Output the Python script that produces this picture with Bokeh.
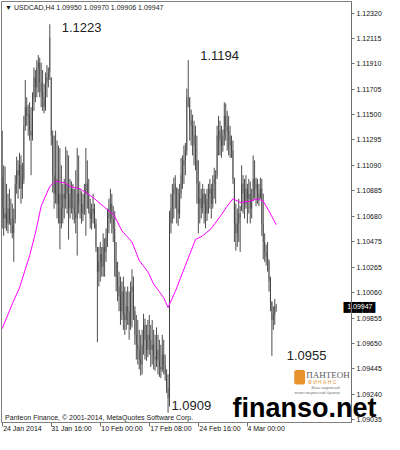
from bokeh.plotting import figure
from bokeh.models import (Range1d, FixedTicker, PrintfTickFormatter, Label, BoxAnnotation,
                          LinearAxis)
from bokeh.embed import file_html
from bokeh.resources import INLINE

symbol = "USDCAD,H4"
watermark = "finanso.net"

highs = [1.1137, 1.1109, 1.1108, 1.1094, 1.1086, 1.1090, 1.1082, 1.1078, 1.1074, 1.1101,
         1.1116, 1.1113, 1.1119, 1.1117, 1.1111, 1.1149, 1.1178, 1.1164, 1.1158, 1.1160,
         1.1156, 1.1168, 1.1188, 1.1186, 1.1194, 1.1198, 1.1196, 1.1192, 1.1186, 1.1175,
         1.1184, 1.1190, 1.1188, 1.1223, 1.1180, 1.1137, 1.1133, 1.1137, 1.1129, 1.1125,
         1.1123, 1.1109, 1.1094, 1.1098, 1.1124, 1.1121, 1.1117, 1.1098, 1.1096, 1.1094,
         1.1090, 1.1105, 1.1123, 1.1117, 1.1090, 1.1088, 1.1086, 1.1094, 1.1123, 1.1113,
         1.1098, 1.1082, 1.1078, 1.1086, 1.1078, 1.1066, 1.1043, 1.1043, 1.1047, 1.1043,
         1.1054, 1.1050, 1.1058, 1.1074, 1.1082, 1.1090, 1.1086, 1.1076, 1.1072, 1.1047,
         1.1031, 1.1023, 1.1019, 1.1015, 1.1019, 1.1011, 1.1007, 1.1011, 1.1007, 1.1015,
         1.1025, 1.1019, 1.0995, 1.0988, 1.0984, 1.0976, 1.0972, 1.0976, 1.0989, 1.0985,
         1.0980, 1.0984, 1.0988, 1.0980, 1.0984, 1.0976, 1.0972, 1.0978, 1.0972, 1.0968,
         1.0964, 1.0972, 1.0968, 1.0956, 1.0944, 1.0940, 1.1072, 1.1086, 1.1094, 1.1099,
         1.1101, 1.1091, 1.1090, 1.1094, 1.1115, 1.1117, 1.1125, 1.1127, 1.1171, 1.1194,
         1.1164, 1.1154, 1.1150, 1.1145, 1.1141, 1.1133, 1.1113, 1.1096, 1.1090, 1.1094,
         1.1090, 1.1086, 1.1090, 1.1094, 1.1098, 1.1094, 1.1101, 1.1107, 1.1105, 1.1141,
         1.1149, 1.1145, 1.1141, 1.1138, 1.1160, 1.1159, 1.1153, 1.1149, 1.1141, 1.1133,
         1.1129, 1.1099, 1.1078, 1.1074, 1.1082, 1.1076, 1.1109, 1.1101, 1.1098, 1.1101,
         1.1094, 1.1098, 1.1096, 1.1090, 1.1117, 1.1113, 1.1099, 1.1098, 1.1094, 1.1099,
         1.1098, 1.1086, 1.1054, 1.1045, 1.1047, 1.1033, 1.1019, 1.0999, 1.0995, 1.1001,
         1.09970]

lows = [1.1058, 1.1052, 1.1058, 1.1056, 1.1054, 1.1061, 1.1054, 1.1050, 1.1031, 1.1062,
        1.1086, 1.1082, 1.1090, 1.1078, 1.1082, 1.1094, 1.1137, 1.1141, 1.1133, 1.1129,
        1.1101, 1.1129, 1.1153, 1.1160, 1.1164, 1.1168, 1.1164, 1.1156, 1.1153, 1.1151,
        1.1153, 1.1164, 1.1172, 1.1178, 1.1125, 1.1087, 1.1074, 1.1078, 1.1066, 1.1062,
        1.1041, 1.1058, 1.1062, 1.1066, 1.1074, 1.1070, 1.1049, 1.1066, 1.1070, 1.1065,
        1.1062, 1.1054, 1.1036, 1.1070, 1.1066, 1.1062, 1.1064, 1.1069, 1.1052, 1.1074,
        1.1070, 1.1058, 1.1057, 1.1062, 1.1058, 1.1039, 1.0966, 1.1011, 1.1015, 1.1019,
        1.1019, 1.1019, 1.1031, 1.1043, 1.1054, 1.1062, 1.1054, 1.1047, 1.1019, 1.1007,
        1.0999, 1.0991, 1.0980, 1.0984, 1.0976, 1.0972, 1.0976, 1.0980, 1.0968, 1.0976,
        1.0978, 1.0984, 1.0964, 1.0952, 1.0948, 1.0944, 1.0939, 1.0940, 1.0956, 1.0952,
        1.0951, 1.0954, 1.0956, 1.0946, 1.0948, 1.0944, 1.0943, 1.0946, 1.0940, 1.0938,
        1.0937, 1.0942, 1.0940, 1.0935, 1.0925, 1.0909, 1.0914, 1.1054, 1.1062, 1.1066,
        1.1074, 1.1062, 1.1060, 1.1066, 1.1082, 1.1090, 1.1094, 1.1101, 1.1117, 1.1156,
        1.1129, 1.1125, 1.1117, 1.1109, 1.1105, 1.1078, 1.1054, 1.1062, 1.1066, 1.1070,
        1.1062, 1.1058, 1.1064, 1.1070, 1.1074, 1.1066, 1.1074, 1.1082, 1.1078, 1.1098,
        1.1117, 1.1117, 1.1115, 1.1120, 1.1125, 1.1129, 1.1121, 1.1117, 1.1115, 1.1115,
        1.1094, 1.1047, 1.1040, 1.1043, 1.1047, 1.1039, 1.1072, 1.1070, 1.1066, 1.1074,
        1.1062, 1.1070, 1.1062, 1.1066, 1.1080, 1.1082, 1.1076, 1.1078, 1.1076, 1.1082,
        1.1052, 1.1033, 1.1031, 1.1028, 1.1023, 1.1007, 1.0991, 1.0955, 1.0976, 1.0980,
        1.09906]

closes = [1.1074, 1.1066, 1.1070, 1.1062, 1.1074, 1.1066, 1.1061, 1.1054, 1.1066, 1.1094,
          1.1105, 1.1101, 1.1109, 1.1090, 1.1098, 1.1141, 1.1156, 1.1149, 1.1150, 1.1137,
          1.1133, 1.1164, 1.1180, 1.1172, 1.1188, 1.1192, 1.1176, 1.1168, 1.1164, 1.1156,
          1.1176, 1.1180, 1.1184, 1.1212, 1.1133, 1.1101, 1.1086, 1.1098, 1.1078, 1.1086,
          1.1062, 1.1074, 1.1086, 1.1082, 1.1094, 1.1086, 1.1074, 1.1086, 1.1090, 1.1074,
          1.1070, 1.1066, 1.1086, 1.1078, 1.1078, 1.1070, 1.1078, 1.1086, 1.1094, 1.1086,
          1.1074, 1.1066, 1.1070, 1.1074, 1.1062, 1.1043, 1.1023, 1.1031, 1.1037, 1.1027,
          1.1043, 1.1039, 1.1050, 1.1066, 1.1074, 1.1078, 1.1066, 1.1058, 1.1031, 1.1019,
          1.1011, 1.1003, 1.0991, 1.1007, 1.0988, 1.0984, 1.0995, 1.0991, 1.0980, 1.1007,
          1.1011, 1.0991, 1.0972, 1.0964, 1.0960, 1.0952, 1.0948, 1.0964, 1.0980, 1.0968,
          1.0960, 1.0972, 1.0968, 1.0960, 1.0964, 1.0954, 1.0952, 1.0960, 1.0951, 1.0946,
          1.0944, 1.0956, 1.0948, 1.0940, 1.0929, 1.0921, 1.1062, 1.1074, 1.1086, 1.1090,
          1.1094, 1.1074, 1.1070, 1.1086, 1.1101, 1.1109, 1.1113, 1.1121, 1.1164, 1.1164,
          1.1145, 1.1141, 1.1133, 1.1125, 1.1113, 1.1094, 1.1078, 1.1082, 1.1074, 1.1086,
          1.1078, 1.1070, 1.1082, 1.1086, 1.1090, 1.1078, 1.1094, 1.1098, 1.1101, 1.1133,
          1.1137, 1.1129, 1.1125, 1.1133, 1.1149, 1.1141, 1.1137, 1.1133, 1.1125, 1.1121,
          1.1098, 1.1062, 1.1054, 1.1062, 1.1070, 1.1066, 1.1094, 1.1086, 1.1078, 1.1090,
          1.1082, 1.1086, 1.1074, 1.1082, 1.1098, 1.1094, 1.1090, 1.1086, 1.1082, 1.1090,
          1.1062, 1.1047, 1.1039, 1.1035, 1.1031, 1.1015, 1.0999, 1.0984, 1.0988, 1.0995,
          1.09947]

first_open = 1.1100

ma_idx = [0, 7, 12, 19, 23, 27, 33, 37, 43, 47, 54, 63, 70, 75, 77, 83, 90, 95, 101, 105,
          112, 115, 120, 127, 134, 139, 145, 152, 156, 160, 165, 172, 177, 181, 185, 190]
ma_vals = [1.0977, 1.0997, 1.1010, 1.1036, 1.1054, 1.1076, 1.1092, 1.1096, 1.1095, 1.1092,
           1.1090, 1.1083, 1.1076, 1.1071, 1.1070, 1.1056, 1.1047, 1.1032, 1.1023, 1.1013,
           1.1002, 1.0994, 1.1007, 1.1028, 1.1049, 1.1052, 1.1058, 1.1069, 1.1076, 1.1082,
           1.1079, 1.1080, 1.1082, 1.1080, 1.1072, 1.1061]

y_ticks = [1.12320, 1.12115, 1.11910, 1.11705, 1.11500, 1.11295, 1.11090, 1.10885, 1.10680,
           1.10475, 1.10265, 1.10060, 1.09855, 1.09650, 1.09445, 1.09240, 1.09035]
x_tick_idx = [0, 34, 68, 102, 136, 170]
x_tick_labels = ["24 Jan 2014", "31 Jan 16:00", "10 Feb 00:00", "17 Feb 08:00",
                 "24 Feb 16:00", "4 Mar 00:00"]

# ---- derived ----
n = len(closes)
idx = list(range(n))
opens = [first_open] + closes[:-1]
body_top = [min(max(o, c), h) for o, c, h in zip(opens, closes, highs)]
body_bot = [max(min(o, c), l) for o, c, l in zip(opens, closes, lows)]
last = closes[-1]

FONT = "Liberation Sans"
SMALL = "7px"
X0, X1 = -0.5, 242.2
Y0, Y1 = 1.09011, 1.12414
FRAME_RIGHT = 343          # canvas x of the chart's right edge (price axis beyond it)

p = figure(width=384, height=434, output_backend="svg", toolbar_location=None,
           x_range=Range1d(X0, X1), y_range=Range1d(Y0, Y1),
           y_axis_location=None, x_axis_location=None,
           min_border_left=1, min_border_top=1,
           min_border_right=33, min_border_bottom=12)
p.background_fill_color = "white"
p.border_fill_color = "white"
p.grid.visible = False
p.outline_line_color = "#808080"

px_per_idx = (FRAME_RIGHT - 1) / (X1 - X0)

def quiet(ax):
    ax.axis_line_color = None
    ax.major_tick_line_color = None
    ax.minor_tick_line_color = None
    ax.major_tick_out = 0
    ax.major_tick_in = 0
    ax.minor_tick_out = 0
    ax.minor_tick_in = 0

# time axis: tick marks at the bar times (minor ticks);
# left-aligned text emulated by centring each label half its width to the right
label_em = [5.50, 5.78, 5.89, 5.89, 5.89, 5.34]
label_centres = [round(t + w * 7.0 / 2.0 / px_per_idx) for t, w in zip(x_tick_idx, label_em)]
xa = LinearAxis(ticker=FixedTicker(ticks=label_centres, minor_ticks=x_tick_idx),
                major_label_overrides={c: s for c, s in zip(label_centres, x_tick_labels)})
quiet(xa)
xa.major_label_text_font = FONT
xa.major_label_text_font_size = SMALL
xa.major_label_text_color = "#111111"
xa.minor_tick_line_color = "#707070"
xa.minor_tick_out = 4
xa.major_label_standoff = -2
p.add_layout(xa, "below")

# price axis on the right
ya = LinearAxis(ticker=FixedTicker(ticks=y_ticks), formatter=PrintfTickFormatter(format="%.5f"))
ya.major_label_text_font = FONT
ya.major_label_text_font_size = SMALL
ya.major_label_text_color = "#111111"
ya.axis_line_color = "#707070"
ya.major_tick_line_color = "#707070"
ya.major_tick_out = 3
ya.major_tick_in = 0
ya.minor_tick_line_color = None
ya.major_label_standoff = 2
p.add_layout(ya, "right")

def pulled_label(y, text, right_end, size, color, style="normal"):
    """single right-aligned text, drawn from the left panel across the chart"""
    ax = LinearAxis(ticker=FixedTicker(ticks=[y]), major_label_overrides={y: text})
    quiet(ax)
    ax.major_label_text_font = FONT
    ax.major_label_text_font_size = size
    ax.major_label_text_font_style = style
    ax.major_label_text_color = color
    ax.major_label_standoff = -(right_end - 1)
    p.add_layout(ax, "left")

# current-price marker on the price scale: black block with white price
pulled_label(last, "\u2588\u2588\u2588\u2588\u2588", FRAME_RIGHT + 32, "9px", "black")
pulled_label(last, f"{last:.5f}", FRAME_RIGHT + 29, SMALL, "white")

# watermark
pulled_label(1.09130, watermark, 376, "27px", "black", style="bold")

# OHLC bars
p.vbar(x=idx, top=body_top, bottom=body_bot, width=0.7,
       fill_color="#8c8c8c", line_color=None)
p.segment(x0=idx, y0=lows, x1=idx, y1=highs, line_color="#3a3a3a", line_width=0.9)

# moving average
p.line(ma_idx, ma_vals, line_color="#ff00ff", line_width=1)

def lab(x, y, text, size=SMALL, color="#111111", align="left", baseline="middle",
        style="normal", font=FONT, **kw):
    l = Label(x=x, y=y, text=text, text_font=font, text_font_size=size,
              text_color=color, text_align=align, text_baseline=baseline,
              text_font_style=style, **kw)
    p.add_layout(l)
    return l

# header line
lab(2.0, 1.12365, "\u25bc " + symbol + "  " + " ".join(
    f"{v:.5f}" for v in (opens[-1], highs[-1], lows[-1], closes[-1])), color="#1a1a1a")

# extreme annotations
lab(41.3, 1.12202, f"{highs[33]:.4f}", size="13px", color="#222222")
lab(137.3, 1.11974, f"{highs[129]:.4f}", size="13px", color="#222222")
lab(117.3, 1.09150, f"{lows[115]:.4f}", size="13px", color="#222222")
lab(197.3, 1.09554, f"{lows[187]:.4f}", size="13px", color="#222222")

# copyright
lab(2.0, 1.09051, "Panteon Finance, \u00a9 2001-2014, MetaQuotes Software Corp.", color="#1a1a1a")

# Panteon logo
p.add_layout(BoxAnnotation(left=202.5, right=210.0, bottom=1.09318, top=1.09436,
                           fill_color="#e8922c", fill_alpha=1.0, line_color=None,
                           border_radius=2))
lab(210.8, 1.09396, "\u041f\u0410\u041d\u0422\u0415\u041e\u041d", size="9px",
    color="#5a5a5a", font="Liberation Sans Narrow")
lab(212.0, 1.09340, "\u0424  \u0418  \u041d  \u0410  \u041d  \u0421", size="5px",
    color="#e8922c")
lab(234.0, 1.09290, "\u0412\u0430\u0448 \u043d\u0430\u0434\u0435\u0436\u043d\u044b\u0439",
    size="4px", color="#777777", align="right")
lab(234.0, 1.09255,
    "\u0438\u043d\u0432\u0435\u0441\u0442\u0438\u0446\u0438\u043e\u043d\u043d\u044b\u0439 \u0431\u0440\u043e\u043a\u0435\u0440",
    size="4px", color="#777777", align="right")

open("out.html", "w").write(file_html(p, INLINE))
